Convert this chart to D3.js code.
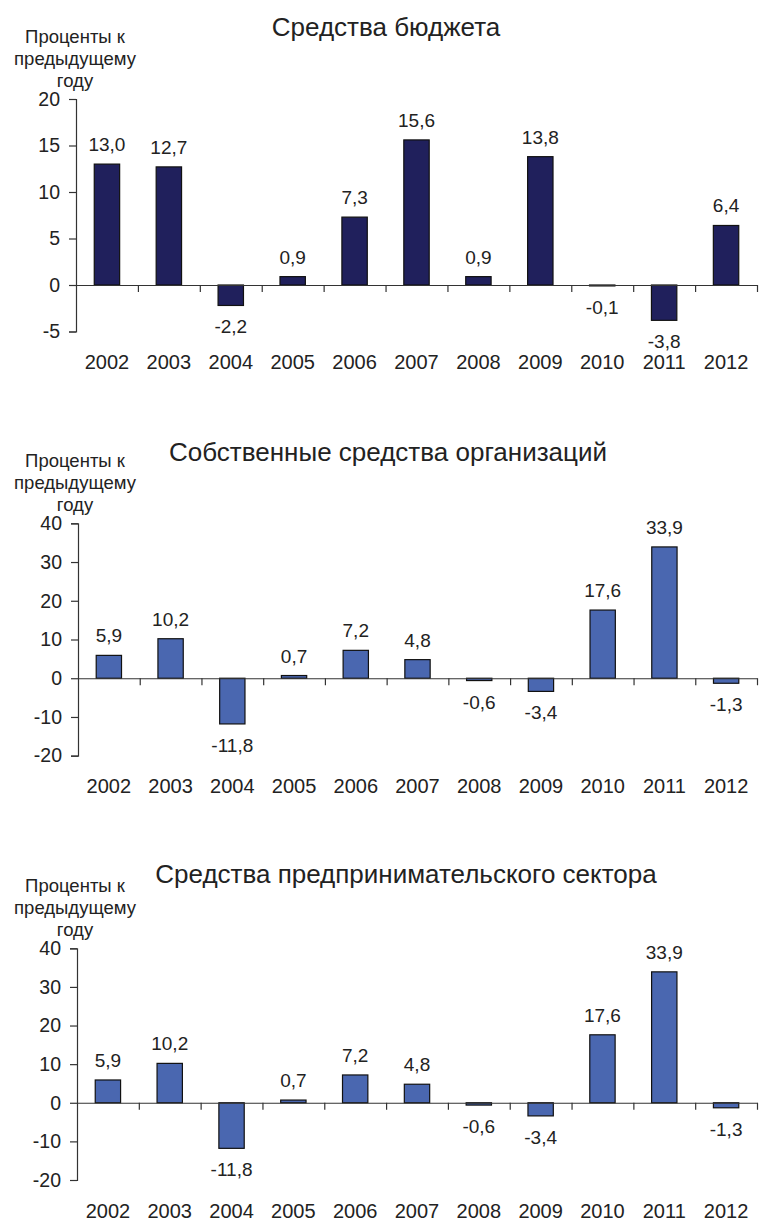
<!DOCTYPE html>
<html>
<head>
<meta charset="utf-8">
<script src="https://cdn.jsdelivr.net/npm/d3@7"></script>
<style>
  body { margin: 0; background: #fff; }
  text { font-family: "Liberation Sans", Arial, sans-serif; fill: #222; }
</style>
</head>
<body>
<script>
// data
const years = ['2002', '2003', '2004', '2005', '2006', '2007', '2008', '2009', '2010', '2011', '2012'];
const budget = [13.0, 12.7, -2.2, 0.9, 7.3, 15.6, 0.9, 13.8, -0.1, -3.8, 6.4];
const ownFunds = [5.9, 10.2, -11.8, 0.7, 7.2, 4.8, -0.6, -3.4, 17.6, 33.9, -1.3];
const businessFunds = [5.9, 10.2, -11.8, 0.7, 7.2, 4.8, -0.6, -3.4, 17.6, 33.9, -1.3];
const titles = ['Средства бюджета', 'Собственные средства организаций', 'Средства предпринимательского сектора'];
const yTicks1 = [-5, 0, 5, 10, 15, 20];
const yTicks2 = [-20, -10, 0, 10, 20, 30, 40];
const unitLabel = ['Проценты к', 'предыдущему', 'году'];

// layout of the three panels
const panels = [
    { values: budget, title: titles[0], ticks: yTicks1, fill: '#20205c', x0: 76, x1: 757, yTop: 99, yBot: 331.5, titleX: 386, titleY: 36, labelY: 43, yearY: 369 },
    { values: ownFunds, title: titles[1], ticks: yTicks2, fill: '#4a67b0', x0: 78, x1: 757, yTop: 523.3, yBot: 755.7, titleX: 388, titleY: 461, labelY: 467, yearY: 793 },
    { values: businessFunds, title: titles[2], ticks: yTicks2, fill: '#4a67b0', x0: 77, x1: 757, yTop: 948.3, yBot: 1180, titleX: 406, titleY: 883, labelY: 892, yearY: 1218 },
];

const svg = d3.select('body').append('svg').attr('width', 759).attr('height', 1221);
const fmt = (v) => v.toFixed(1).replace('.', ',');

panels.forEach((p) => {
    const g = svg.append('g');
    const ext = d3.extent(p.ticks);
    const y = d3.scaleLinear().domain(ext).range([p.yBot, p.yTop]);
    const x = d3.scaleBand().domain(years).range([p.x0, p.x1]).padding(0);
    const xi = d3.scaleLinear().domain([0, years.length]).range([p.x0, p.x1]);
    const bw = x.bandwidth() * 0.41;

    // title
    g.append('text').attr('x', p.titleX).attr('y', p.titleY).attr('text-anchor', 'middle').style('font-size', '26px').text(p.title);

    // unit label
    g.append('g')
        .selectAll('text')
        .data(unitLabel)
        .join('text')
        .attr('x', 75)
        .attr('y', (d, i) => p.labelY + i * 22)
        .attr('text-anchor', 'middle')
        .style('font-size', '18.5px')
        .text((d) => d);

    // bars
    g.append('g')
        .selectAll('rect')
        .data(p.values)
        .join('rect')
        .attr('x', (d, i) => x(years[i]) + (x.bandwidth() - bw) / 2)
        .attr('y', (d) => y(Math.max(0, d)))
        .attr('width', bw)
        .attr('height', (d) => Math.abs(y(d) - y(0)))
        .attr('fill', p.fill)
        .attr('stroke', '#111')
        .attr('stroke-width', 1.2);

    // y axis
    const ya = g
        .append('g')
        .attr('transform', 'translate(' + p.x0 + ',0)')
        .call(d3.axisLeft(y).tickValues(p.ticks).tickSize(7).tickPadding(9).tickFormat((d) => String(d)));
    ya.select('.domain').attr('stroke', '#333').attr('stroke-width', 1.2);
    ya.selectAll('.tick line').attr('stroke', '#333').attr('stroke-width', 1.2);
    ya.selectAll('text').style('font-size', '19.5px').attr('fill', '#222').attr('font-family', null);

    // x axis along zero
    const xa = g
        .append('g')
        .attr('transform', 'translate(0,' + y(0) + ')')
        .call(d3.axisBottom(xi).tickValues(d3.range(1, years.length + 1)).tickSize(7).tickSizeOuter(0).tickFormat(''));
    xa.select('.domain').attr('stroke', '#333').attr('stroke-width', 1.2);
    xa.selectAll('.tick line').attr('stroke', '#333').attr('stroke-width', 1.2);

    // year labels
    g.append('g')
        .selectAll('text')
        .data(years)
        .join('text')
        .attr('x', (d) => x(d) + x.bandwidth() / 2)
        .attr('y', p.yearY)
        .attr('text-anchor', 'middle')
        .style('font-size', '20px')
        .text((d) => d);

    // value labels
    g.append('g')
        .selectAll('text')
        .data(p.values)
        .join('text')
        .attr('x', (d, i) => x(years[i]) + x.bandwidth() / 2)
        .attr('y', (d) => (d >= 0 ? y(d) - 13 : y(d) + 28))
        .attr('text-anchor', 'middle')
        .style('font-size', '19px')
        .text(fmt);
});
</script>
</body>
</html>
